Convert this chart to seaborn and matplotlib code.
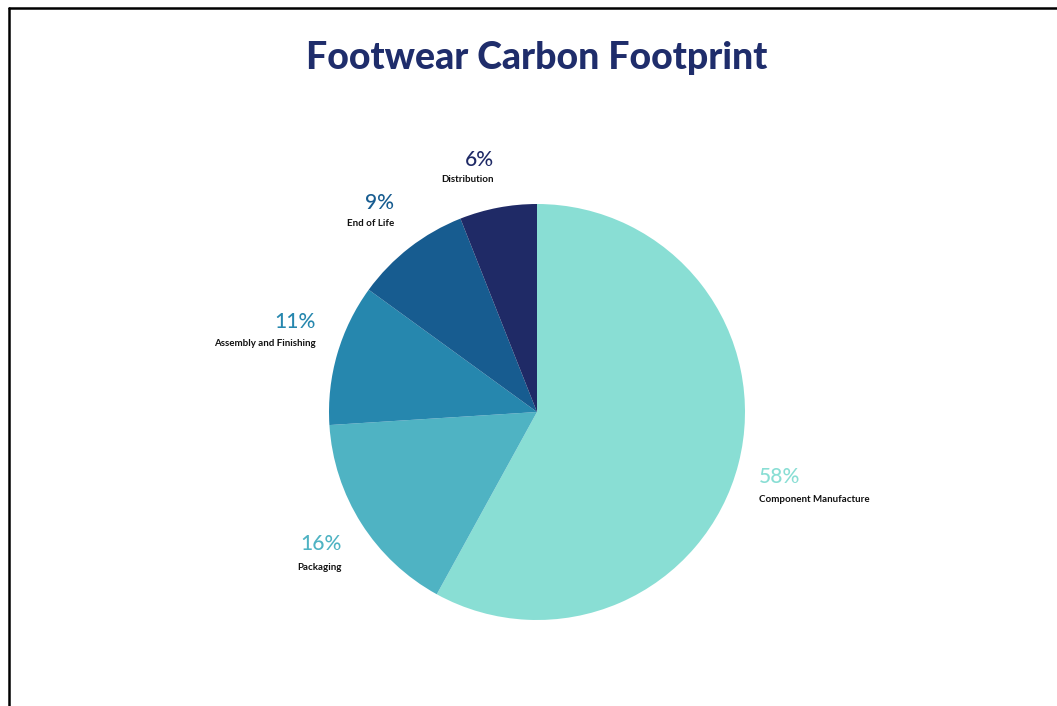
import matplotlib
matplotlib.use("Agg")
import matplotlib.pyplot as plt
import seaborn as sns
from matplotlib.lines import Line2D

sns.set_theme(style="white")
plt.rcParams['font.family'] = ['Lato', 'DejaVu Sans']

# ---- data ----
categories = ["Component Manufacture", "Packaging", "Assembly and Finishing", "End of Life", "Distribution"]
values = [58, 16, 11, 9, 6]
pct_labels = ["58%", "16%", "11%", "9%", "6%"]
colors = ["#89DED4", "#4FB3C3", "#2687AE", "#175C90", "#1F2A66"]
title = "Footwear Carbon Footprint"

# ---- layout (pixels in a 1057x706 canvas) ----
W, H = 1057, 706
cx, cy, r = 537, 412, 208
# (x anchor, y of percent, y of name, horizontal alignment)
label_pos = [
    (759, 477, 499, "left"),
    (342, 544, 567, "right"),
    (316, 322, 343, "right"),
    (394, 203, 223, "right"),
    (494, 160, 180, "right"),
]

fig = plt.figure(figsize=(W / 100, H / 100), dpi=100)
fig.patch.set_facecolor("white")

ax = fig.add_axes([(cx - r) / W, (H - cy - r) / H, 2 * r / W, 2 * r / H])
ax.pie(values, colors=colors, startangle=90, counterclock=False,
       radius=1.0, wedgeprops=dict(linewidth=0))
ax.set_xlim(-1, 1)
ax.set_ylim(-1, 1)
ax.set_aspect("equal")
ax.axis("off")

def fx(x):
    return x / W

def fy(y):
    return 1 - y / H

for (x, yp, yn, ha), pct, name, col in zip(label_pos, pct_labels, categories, colors):
    fig.text(fx(x), fy(yp), pct, color=col, fontsize=15, ha=ha, va="center",
             fontweight="medium")
    fig.text(fx(x), fy(yn), name, color="#111111", fontsize=7, ha=ha, va="center",
             fontweight="bold")

fig.text(fx(537), fy(58), title, color="#1F2D6B", fontsize=27, ha="center",
         va="center", fontweight="black")

# frame lines (top and left)
fig.add_artist(Line2D([fx(9), 1.0], [fy(8), fy(8)], color="black", lw=1.8,
                      transform=fig.transFigure))
fig.add_artist(Line2D([fx(9), fx(9)], [fy(8), 0.0], color="black", lw=1.8,
                      transform=fig.transFigure))

fig.savefig("out.png", dpi=100, facecolor="white")
